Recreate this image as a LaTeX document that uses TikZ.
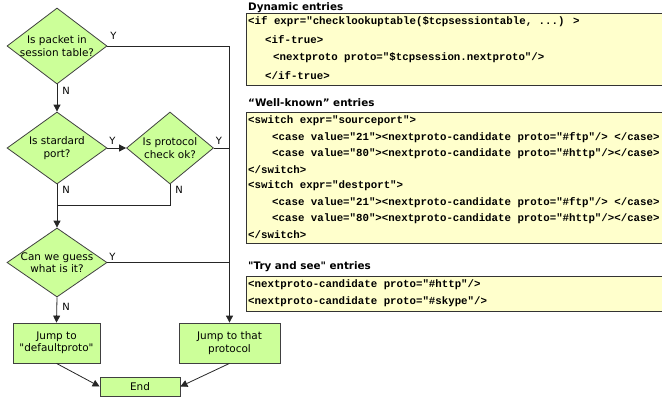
\documentclass[tikz,border=0pt]{standalone}
\usepackage{fontspec}
\newfontfamily\flowfont{DejaVu Sans}
\newfontfamily\codefont{Liberation Mono}
\usetikzlibrary{shapes.geometric,arrows.meta,calc}
\definecolor{flowgreen}{HTML}{CCFF99}
\definecolor{codeyellow}{HTML}{FFFFCC}
\definecolor{edgegray}{HTML}{404040}
\begin{document}
\begin{tikzpicture}[x=1bp,y=-1bp,
  dia/.style={diamond, draw=edgegray, fill=flowgreen, line width=0.8bp, inner sep=0pt},
  flowbox/.style={rectangle, draw=edgegray, fill=flowgreen, line width=0.8bp, inner sep=0pt, align=center, font=\flowfont\fontsize{10.5}{12.5}\selectfont},
  dtext/.style={align=center, font=\flowfont\fontsize{10.5}{12.5}\selectfont, inner sep=0pt},
  yn/.style={font=\flowfont\fontsize{10}{12}\selectfont, inner sep=0pt},
  conn/.style={draw=black!85, line width=0.8bp},
  arr/.style={conn, -{Triangle[length=7bp,width=7bp]}},
  codebox/.style={draw=black!80, fill=codeyellow, line width=0.9bp, inner sep=0pt, anchor=north west},
  code/.style={anchor=west, inner sep=0pt, font=\codefont\bfseries\fontsize{10.8}{12}\selectfont},
  title/.style={anchor=west, inner sep=0pt, font=\flowfont\bfseries\fontsize{10.4}{12}\selectfont}]
\useasboundingbox (0,0) rectangle (662,397);
\clip (0,0) rectangle (662,397);

% flowchart
\node[dia, minimum width=100bp, minimum height=76bp, label={[dtext]center:Is packet in\\session table?}] (d1) at (57,46) {};
\node[dia, minimum width=100bp, minimum height=72bp, label={[dtext]center:Is stardard\\port?}] (d2) at (57,148) {};
\node[dia, minimum width=87bp, minimum height=72bp, label={[dtext]center:Is protocol\\check ok?}] (d3) at (170,148) {};
\node[dia, minimum width=100bp, minimum height=69bp, label={[dtext]center:Can we guess\\what is it?}] (d4) at (57,262.5) {};
\node[flowbox, minimum width=87bp, minimum height=40bp] (p1) at (56.5,343) {Jump to\\"defaultproto"};
\node[flowbox, minimum width=101bp, minimum height=40bp] (p2) at (229.5,343) {Jump to that\\protocol};
\node[flowbox, minimum width=80bp, minimum height=19bp] (e) at (140,386.5) {End};
\coordinate (j) at (57,205);

\draw[arr] (d1.south) -- (d2.north);
\draw[arr] (d1.east) -| (p2.north);
\draw[arr] (d2.east) -- (d3.west);
\draw[conn] (d3.east) -- (d3.east -| p2.north);
\draw[conn] (d4.east) -- (d4.east -| p2.north);
\draw[arr] (d2.south) -- (d4.north);
\draw[conn] (d3.south) |- (j);
\draw[arr] (d4.south) -- (p1.north);
\draw[arr] (p1.south) -- (e.west);
\draw[arr] (p2.south) -- (e.east);

\node[yn] at ($(d1.east)+(6,-10)$) {Y};
\node[yn] at ($(d1.south)+(9,6)$) {N};
\node[yn] at ($(d2.east)+(5,-7)$) {Y};
\node[yn] at ($(d3.east)+(5,-7)$) {Y};
\node[yn] at ($(d2.south)+(9,5)$) {N};
\node[yn] at ($(d3.south)+(9,5)$) {N};
\node[yn] at ($(d4.east)+(5,-6)$) {Y};
\node[yn] at ($(d4.south)+(9,9)$) {N};

% code panels
\node[title] (t1) at (248,8) {Dynamic entries};
\node[codebox, minimum width=426bp, minimum height=72bp] (c1) at (246,13) {};
\node[code] at (248,22) {<if expr="checklookuptable(\$tcpsessiontable, ...) >};
\node[code] at (265,40) {<if-true>};
\node[code] at (273,58) {<nextproto proto="\$tcpsession.nextproto"/>};
\node[code] at (265,76) {</if-true>};

\node[title] (t2) at (248,103) {“Well-known” entries};
\node[codebox, minimum width=426bp, minimum height=131bp] (c2) at (246,112) {};
\node[code] at (248,121) {<switch expr="sourceport">};
\node[code] at (272,137.3) {<case value="21"><nextproto-candidate proto="\#ftp"/> </case>};
\node[code] at (272,153.6) {<case value="80"><nextproto-candidate proto="\#http"/></case>};
\node[code] at (248,169.9) {</switch>};
\node[code] at (248,186.2) {<switch expr="destport">};
\node[code] at (272,202.5) {<case value="21"><nextproto-candidate proto="\#ftp"/> </case>};
\node[code] at (272,218.8) {<case value="80"><nextproto-candidate proto="\#http"/></case>};
\node[code] at (248,235.1) {</switch>};

\node[title] (t3) at (248,267) {"Try and see" entries};
\node[codebox, minimum width=426bp, minimum height=35bp] (c3) at (246,276) {};
\node[code] at (248,285) {<nextproto-candidate proto="\#http"/>};
\node[code] at (248,302) {<nextproto-candidate proto="\#skype"/>};
\end{tikzpicture}
\end{document}
